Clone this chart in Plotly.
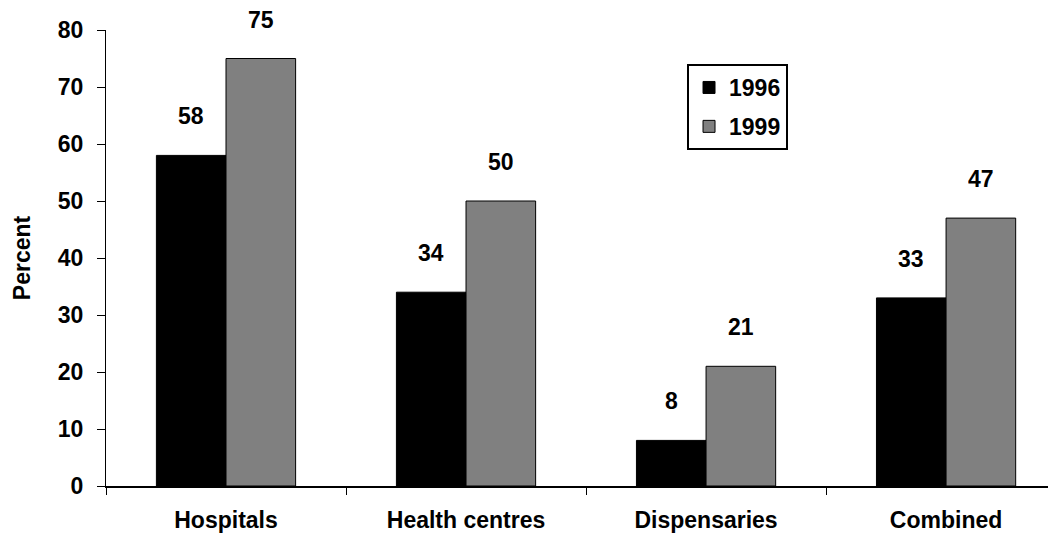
import plotly.graph_objects as go

categories = ["Hospitals", "Health centres", "Dispensaries", "Combined"]
years = ["1996", "1999"]
values_1996 = [58, 34, 8, 33]
values_1999 = [75, 50, 21, 47]
colors = ["#000000", "#808080"]
y_ticks = [0, 10, 20, 30, 40, 50, 60, 70, 80]

FONT = "Liberation Sans, Arial, sans-serif"
FS = 23

fig = go.Figure()
for name, vals, col in zip(years, [values_1996, values_1999], colors):
    fig.add_trace(go.Bar(
        x=categories, y=vals, name=f"<b>{name}</b>", legendgroup=name,
        marker=dict(color=col, line=dict(color="#000000", width=1)),
    ))

shifts = [-35, 35]
for vals, xs in zip([values_1996, values_1999], shifts):
    for c, v in zip(categories, vals):
        fig.add_annotation(x=c, y=v, text=f"<b>{v}</b>", showarrow=False,
                           xshift=xs, yshift=39, height=20, borderpad=0,
                           font=dict(family=FONT, size=FS, color="#000000"))

fig.update_layout(
    template="none",
    width=1048, height=529,
    margin=dict(l=98, r=0, t=22, b=51, autoexpand=False),
    paper_bgcolor="white", plot_bgcolor="white",
    barmode="group", bargap=0.42, bargroupgap=0,
    font=dict(family=FONT, size=FS, color="#000000"),
    showlegend=True,
    legend=dict(
        x=0.6116, y=0.9254, xanchor="left", yanchor="top",
        bgcolor="white", bordercolor="#000000", borderwidth=2,
        font=dict(family=FONT, size=FS, color="#000000"),
        tracegroupgap=6,
    ),
)
fig.update_xaxes(
    automargin=False,
    range=[-0.5, 3.458], tickson="boundaries",
    ticks="outside", ticklen=7, tickcolor="#000000", tickwidth=1,
    showline=True, linecolor="#000000", linewidth=1.5,
    showgrid=False, zeroline=False,
    tickfont=dict(family=FONT, size=FS, color="#000000"),
    ticklabelstandoff=13,
    tickvals=categories,
    ticktext=[f"<b>{c}</b>" for c in categories],
)
fig.update_yaxes(
    automargin=False,
    range=[0, 80], tickvals=y_ticks,
    ticktext=[f"<b>{t}</b>" for t in y_ticks],
    ticks="outside", ticklen=8, tickcolor="#000000", tickwidth=1,
    showline=True, linecolor="#000000", linewidth=1,
    showgrid=False, zeroline=False,
    tickfont=dict(family=FONT, size=FS, color="#000000"),
    ticklabelstandoff=9,
    title=dict(text="<b>Percent</b>", standoff=20,
               font=dict(family=FONT, size=FS, color="#000000")),
)

fig.write_html("out.html")
